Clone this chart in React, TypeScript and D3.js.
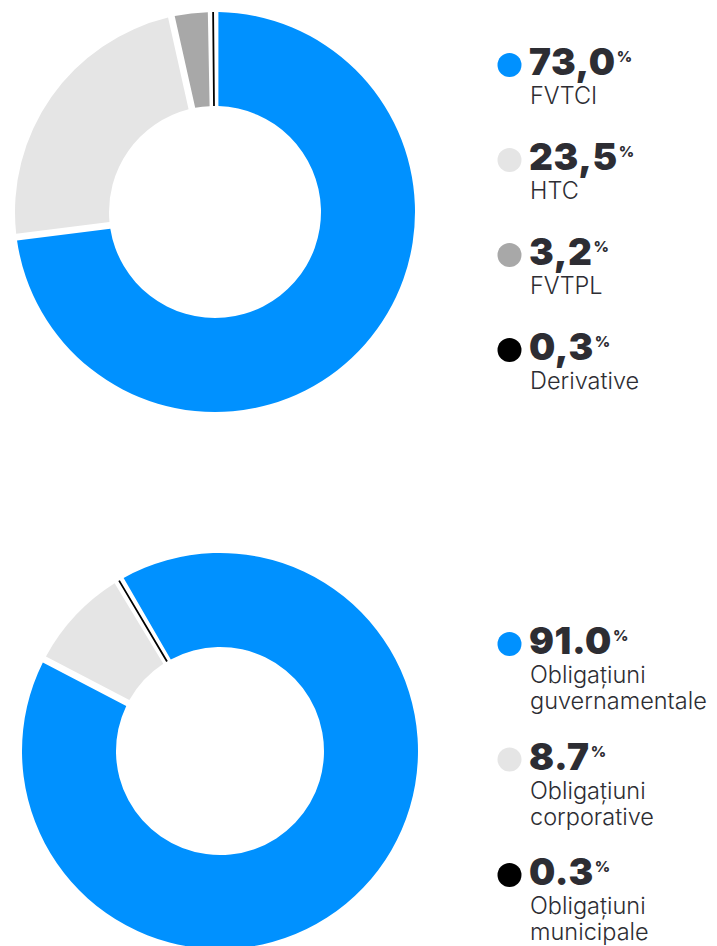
import React from "react";
import * as d3 from "d3";

const cats1 = ["FVTCI", "HTC", "FVTPL", "Derivative"];
const vals1 = [73.0, 23.5, 3.2, 0.3];
const colors1 = ["#0091FF", "#E5E5E5", "#A8A8A8", "#000000"];

const cats2 = [["Obligațiuni", "guvernamentale"], ["Obligațiuni", "corporative"], ["Obligațiuni", "municipale"]];
const vals2 = [91.0, 8.7, 0.3];
const colors2 = ["#0091FF", "#E5E5E5", "#000000"];

const W = 717;
const H = 946;
const TEXT = "#2d2d33";
const PAD = 0.034;

const fmtComma = d3.formatLocale({ decimal: ",", thousands: ".", grouping: [3], currency: ["", ""] }).format(".1f");
const fmtDot = d3.format(".1f");

function Donut({ values, colors, cx, cy, outer, inner, start }: any) {
  const pie = d3.pie<number>().sort(null).value((d) => d).startAngle(start).endAngle(start + 2 * Math.PI);
  const arc = d3.arc<d3.PieArcDatum<number>>().innerRadius(inner).outerRadius(outer).padAngle(PAD).padRadius(outer);
  const arcs = pie(values);
  return (
    <g transform={`translate(${cx},${cy})`}>
      {arcs.map((a, i) => {
        const small = a.endAngle - a.startAngle < PAD;
        return (
          <path
            key={i}
            d={arc(a) || ""}
            fill={colors[i]}
            stroke={small ? colors[i] : "none"}
            strokeWidth={small ? 1.8 : 0}
            strokeLinecap="square"
          />
        );
      })}
    </g>
  );
}

function Legend({ labels, values, colors, fmt, y0, step, lineH }: any) {
  return (
    <g>
      {values.map((v: number, i: number) => {
        const by = y0 + i * step;
        const lines: string[] = Array.isArray(labels[i]) ? labels[i] : [labels[i]];
        return (
          <g key={i}>
            <circle cx={509.5} cy={by - 10} r={12} fill={colors[i]} />
            <text x={529} y={by} fontFamily="Inter, sans-serif" fontWeight={900} fontSize={37} letterSpacing={0.6} fill={TEXT}>
              <tspan>{fmt(v)}</tspan>
              <tspan fontSize={15} fontWeight={800} letterSpacing={0} dx={1} dy={-13}>%</tspan>
            </text>
            {lines.map((l, j) => (
              <text key={j} x={530} y={by + 29 + j * lineH} fontFamily="Inter, sans-serif" fontWeight={300} fontSize={23.5} fill={TEXT}>
                {l}
              </text>
            ))}
          </g>
        );
      })}
    </g>
  );
}

export default function App() {
  return (
    <div style={{ position: "absolute", left: 0, top: 0, width: W, height: H, background: "#fff" }}>
      <svg width={W} height={H} style={{ display: "block" }}>
        <Donut values={vals1} colors={colors1} cx={215} cy={212} outer={200} inner={106} start={0} />
        <Legend labels={cats1} values={vals1} colors={colors1} fmt={fmtComma} y0={75} step={95} lineH={26} />
        <Donut values={vals2} colors={colors2} cx={220} cy={751} outer={198} inner={104} start={(-30.1 * Math.PI) / 180} />
        <Legend labels={cats2} values={vals2} colors={colors2} fmt={fmtDot} y0={654} step={115.5} lineH={26} />
      </svg>
    </div>
  );
}
